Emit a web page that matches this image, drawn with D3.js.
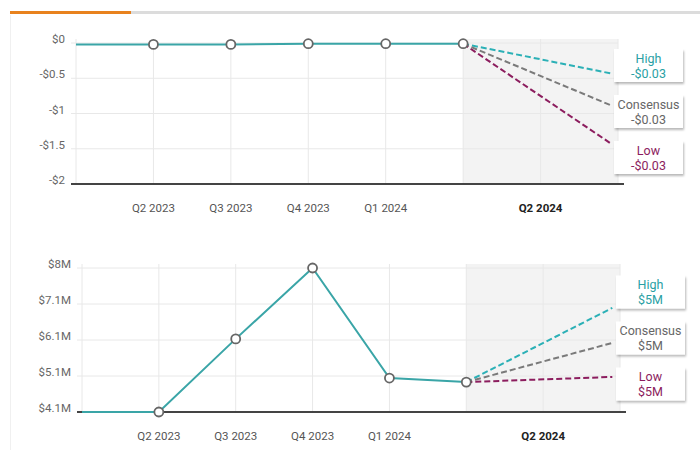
<!DOCTYPE html>
<html><head><meta charset="utf-8">
<script src="https://cdn.jsdelivr.net/npm/d3@7"></script>
<style>
html,body{margin:0;padding:0;background:#fff;}
svg{display:block;font-family:Roboto,"Noto Sans",sans-serif;}
</style></head>
<body>
<svg id="c" width="700" height="450"></svg>
<script>
// ---- data ----
const xIndex = [0, 1, 2, 3, 4, 5];
const xTickIndex = [1, 2, 3, 4, 6];
const xTickLabels = ["Q2 2023", "Q3 2023", "Q4 2023", "Q1 2024", "Q2 2024"];
const forecastX = 6.9;
const forecastNames = ["High", "Consensus", "Low"];

const epsActual = [-0.02, -0.02, -0.02, -0.01, -0.01, -0.01];
const epsForecast = [-0.43, -0.88, -1.42];
const epsForecastLabels = ["-$0.03", "-$0.03", "-$0.03"];
const epsTicks = [-2, -1.5, -1, -0.5, 0];
const epsTickLabels = ["-$2", "-$1.5", "-$1", "-$0.5", "$0"];

const revActual = [4.1, 4.1, 6.08, 8.0, 5.02, 4.91];
const revForecast = [6.92, 5.97, 5.05];
const revForecastLabels = ["$5M", "$5M", "$5M"];
const revTicks = [4.1, 5.075, 6.05, 7.025, 8.0];
const revTickLabels = ["$4.1M", "$5.1M", "$6.1M", "$7.1M", "$8M"];

// ---- styles ----
const lineColor = "#3aa5a7";
const fcColors = ["#2bb0b6", "#7a7a7a", "#8c1d5e"];
const fcTextColors = ["#2a9fa4", "#666", "#8c1d5e"];

const svg = d3.select("#c");
const defs = svg.append("defs");
const f = defs.append("filter").attr("id","sh").attr("x","-20%").attr("y","-20%").attr("width","150%").attr("height","160%");
f.append("feDropShadow").attr("dx",1).attr("dy",2).attr("stdDeviation",1.3).attr("flood-color","#000").attr("flood-opacity",0.28);

// top progress bar
svg.append("line").attr("x1",130).attr("x2",700).attr("y1",12.5).attr("y2",12.5).attr("stroke","#dcdcdc").attr("stroke-width",3);
svg.append("line").attr("x1",10).attr("x2",131).attr("y1",12.5).attr("y2",12.5).attr("stroke","#e8821e").attr("stroke-width",3);
// faint card border
svg.append("line").attr("x1",10.5).attr("x2",10.5).attr("y1",15).attr("y2",450).attr("stroke","#f0f0f0").attr("stroke-width",1);

function drawChart(opt){
  const g = svg.append("g");
  const x = d3.scaleLinear().domain([0,7]).range([opt.x0, opt.x1]);
  const y = d3.scaleLinear().domain(opt.domain).range([opt.yb, opt.yt]);
  const top = opt.yt - 4;
  // shaded forecast region
  g.append("rect").attr("x", x(5)).attr("y", top).attr("width", x(7)-x(5)).attr("height", opt.yb-top).attr("fill","#f3f3f3");
  // vertical grid
  g.selectAll(".vg").data(d3.range(0,8)).join("line")
    .attr("x1",d=>x(d)).attr("x2",d=>x(d)).attr("y1",top).attr("y2",opt.yb)
    .attr("stroke","#e8e8e8").attr("stroke-width",1);
  // horizontal grid
  g.selectAll(".hg").data(opt.ticks).join("line")
    .attr("x1",opt.x0-5).attr("x2",x(7)).attr("y1",d=>y(d)).attr("y2",d=>y(d))
    .attr("stroke","#e8e8e8").attr("stroke-width",1);
  // y labels
  g.selectAll(".yl").data(opt.ticks).join("text")
    .attr("x", opt.labelX).attr("y", d=>y(d)).attr("text-anchor","end")
    .attr("font-size",11.5).attr("fill","#666")
    .text((d,i)=>opt.tickLabels[i]);
  // axis line
  g.append("line").attr("x1",opt.x0-5).attr("x2",x(7)+6).attr("y1",opt.yb).attr("y2",opt.yb)
    .attr("stroke","#444").attr("stroke-width",2);
  // x labels
  g.selectAll(".xl").data(xTickIndex).join("text")
    .attr("x", d=>x(d)).attr("y", opt.yb+28).attr("text-anchor","middle")
    .attr("font-size",11.5)
    .attr("fill",(d,i)=> i===xTickIndex.length-1 ? "#222" : "#555")
    .attr("font-weight",(d,i)=> i===xTickIndex.length-1 ? "bold" : "normal")
    .text((d,i)=>xTickLabels[i]);
  // forecast lines
  const last = xIndex.length-1;
  opt.forecast.forEach((v,i)=>{
    g.append("line").attr("x1",x(xIndex[last])).attr("y1",y(opt.actual[last]))
      .attr("x2",x(forecastX)).attr("y2",y(v))
      .attr("stroke",fcColors[i]).attr("stroke-width",2).attr("stroke-dasharray","6,3");
  });
  // actual line
  const line = d3.line().x((d,i)=>x(xIndex[i])).y(d=>y(d));
  g.append("path").attr("d", line(opt.actual)).attr("fill","none").attr("stroke",lineColor).attr("stroke-width",2);
  g.selectAll(".pt").data(opt.actual.slice(1)).join("circle")
    .attr("cx",(d,i)=>x(xIndex[i+1])).attr("cy",d=>y(d)).attr("r",4.5)
    .attr("fill","#fff").attr("stroke","#666").attr("stroke-width",1.8);
  // label boxes
  const mid = (top + opt.yb)/2;
  const bw = 69, bh = 33, gap = 46;
  opt.forecast.forEach((v,i)=>{
    const cy = mid + (i-1)*gap;
    const bx = x(7) - 4;
    g.append("rect").attr("x",bx).attr("y",cy-bh/2).attr("width",bw).attr("height",bh)
      .attr("fill","#fff").attr("filter","url(#sh)");
    g.append("text").attr("x",bx+bw/2).attr("y",cy-3).attr("text-anchor","middle")
      .attr("font-size",12.5).attr("fill",fcTextColors[i]).text(forecastNames[i]);
    g.append("text").attr("x",bx+bw/2).attr("y",cy+12).attr("text-anchor","middle")
      .attr("font-size",12.5).attr("fill",fcTextColors[i]).text(opt.fcLabels[i]);
  });
}

drawChart({x0:76, x1:618, yt:43, yb:184, domain:[-2,0], ticks:epsTicks, tickLabels:epsTickLabels,
  labelX:65, actual:epsActual, forecast:epsForecast, fcLabels:epsForecastLabels});
drawChart({x0:82, x1:620, yt:268, yb:412, domain:[4.1,8.0], ticks:revTicks, tickLabels:revTickLabels,
  labelX:71, actual:revActual, forecast:revForecast, fcLabels:revForecastLabels});
</script>
</body></html>
